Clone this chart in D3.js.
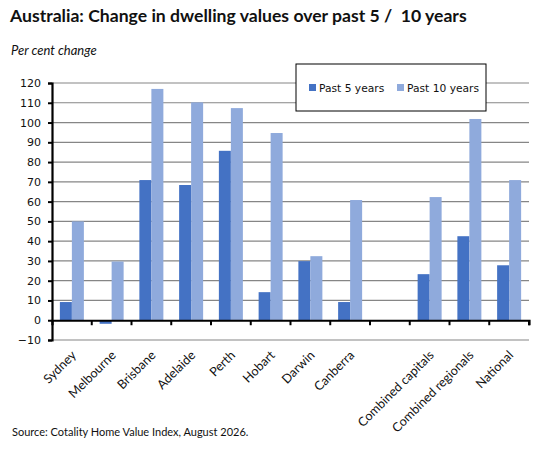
<!DOCTYPE html>
<html>
<head>
<meta charset="utf-8">
<script src="https://cdn.jsdelivr.net/npm/d3@7"></script>
<style>
  body { margin: 0; background: #fff; }
  svg { display: block; overflow: visible; }
</style>
</head>
<body>
<svg id="chart" width="548" height="454"></svg>
<script>
const categories = ['Sydney', 'Melbourne', 'Brisbane', 'Adelaide', 'Perth', 'Hobart', 'Darwin', 'Canberra', '', 'Combined capitals', 'Combined regionals', 'National']
const past5 = [9.2, -1.8, 70.9, 68.4, 85.7, 14.2, 29.9, 9.2, null, 23.3, 42.5, 27.8]
const past10 = [50.0, 29.7, 117.0, 110.2, 107.3, 94.7, 32.4, 60.8, null, 62.3, 101.8, 70.9]
const yTicks = [-10, 0, 10, 20, 30, 40, 50, 60, 70, 80, 90, 100, 110, 120]
const seriesNames = ['Past 5 years', 'Past 10 years']
const colors = ['#4472C4', '#8FAADC']

const svg = d3.select('#chart')
const width = 548

const margin = { top: 83, right: 19, bottom: 114, left: 52 }
const innerWidth = width - margin.left - margin.right
const innerHeight = 454 - margin.top - margin.bottom

// ------------------
// Titles
// ------------------
svg.append('text')
  .attr('x', 10)
  .attr('y', 22)
  .attr('font-family', 'Lato, sans-serif')
  .attr('font-weight', 'bold')
  .attr('font-size', 17.6)
  .attr('fill', '#111')
  .style('white-space', 'pre')
  .text('Australia: Change in dwelling values over past 5 /  10 years')

svg.append('text')
  .attr('x', 11)
  .attr('y', 55)
  .attr('font-family', 'Lato, sans-serif')
  .attr('font-style', 'italic')
  .attr('font-size', 13)
  .attr('fill', '#111')
  .text('Per cent change')

svg.append('text')
  .attr('x', 12)
  .attr('y', 436)
  .attr('font-family', 'Lato, sans-serif')
  .attr('font-size', 11)
  .attr('fill', '#111')
  .text('Source: Cotality Home Value Index, August 2026.')

const g = svg.append('g')
  .attr('transform', `translate(${margin.left},${margin.top})`)

// ------------------
// Scales
// ------------------
const x = d3.scaleBand()
  .domain(d3.range(categories.length))
  .range([0, innerWidth])

const xs = d3.scaleBand()
  .domain([0, 1])
  .range([x.bandwidth() / 2 - 12, x.bandwidth() / 2 + 12])

const y = d3.scaleLinear()
  .domain([-10, 120])
  .range([innerHeight, 0])

// ------------------
// Gridlines
// ------------------
g.append('g')
  .selectAll('line')
  .data(yTicks.filter(d => d !== 0))
  .enter()
  .append('line')
  .attr('x1', 0)
  .attr('x2', innerWidth)
  .attr('y1', d => y(d))
  .attr('y2', d => y(d))
  .attr('stroke', '#868686')
  .attr('stroke-width', 1.2)

// ------------------
// Bars
// ------------------
const rows = categories.map((c, i) => ({ i, values: [past5[i], past10[i]] }))

const groups = g.selectAll('.grp')
  .data(rows)
  .enter()
  .append('g')
  .attr('transform', d => `translate(${x(d.i)},0)`)

groups.selectAll('rect')
  .data(d => d.values.map((v, s) => ({ v, s })).filter(d => d.v !== null))
  .enter()
  .append('rect')
  .attr('x', d => xs(d.s))
  .attr('width', xs.bandwidth())
  .attr('y', d => y(Math.max(0, d.v)))
  .attr('height', d => Math.abs(y(d.v) - y(0)))
  .attr('fill', d => colors[d.s])

// ------------------
// Axes
// ------------------
const yAxis = g.append('g')
  .call(d3.axisLeft(y).tickValues(yTicks).tickSize(4).tickPadding(7))
yAxis.select('.domain').attr('stroke', '#000').attr('stroke-width', 2.2)
yAxis.selectAll('.tick line').attr('stroke', '#000').attr('stroke-width', 2)
yAxis.selectAll('.tick text')
  .attr('font-family', 'DejaVu Sans, Verdana, sans-serif')
  .attr('font-size', 11)
  .attr('fill', '#111')

const xAxis = g.append('g')
  .attr('transform', `translate(0,${y(0)})`)
  .call(d3.axisBottom(x).tickSize(5).tickFormat(''))
xAxis.select('.domain').attr('stroke', '#000').attr('stroke-width', 2.2)
xAxis.selectAll('.tick line')
  .attr('transform', `translate(${x.bandwidth() / 2},0)`)
  .attr('stroke', '#000')
  .attr('stroke-width', 2)

g.append('g')
  .selectAll('text')
  .data(categories)
  .enter()
  .append('text')
  .attr('transform', (d, i) => `translate(${x(i) + x.bandwidth() / 2 + 5},${innerHeight + 16}) rotate(-45)`)
  .attr('text-anchor', 'end')
  .attr('font-family', 'Lato, sans-serif')
  .attr('font-size', 12.6)
  .attr('fill', '#111')
  .text(d => d)

// ------------------
// Legend
// ------------------
const legend = svg.append('g')
  .attr('transform', 'translate(296,64)')

legend.append('rect')
  .attr('width', 190)
  .attr('height', 47)
  .attr('fill', '#fff')
  .attr('stroke', '#000')
  .attr('stroke-width', 1)

const legendX = [13, 101]
seriesNames.forEach((name, i) => {
  legend.append('rect')
    .attr('x', legendX[i])
    .attr('y', 20)
    .attr('width', 7)
    .attr('height', 7)
    .attr('fill', colors[i])
  legend.append('text')
    .attr('x', legendX[i] + 10)
    .attr('y', 27.5)
    .attr('font-family', 'DejaVu Sans, Verdana, sans-serif')
    .attr('font-size', 10.7)
    .attr('fill', '#111')
    .text(name)
})
</script>
</body>
</html>
